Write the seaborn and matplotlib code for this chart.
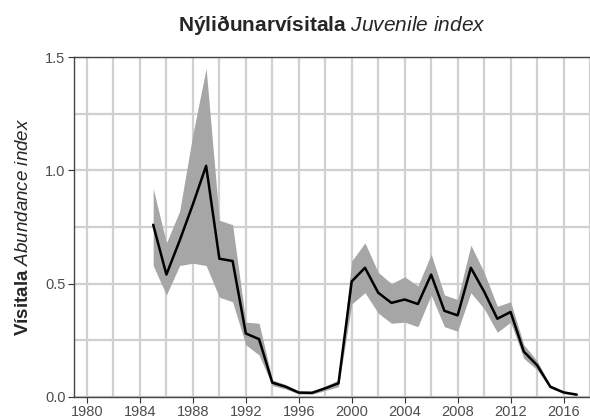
import numpy as np
import pandas as pd
import matplotlib
matplotlib.use("Agg")
import matplotlib.pyplot as plt
import seaborn as sns

years = list(range(1985, 2018))
index = [0.76, 0.54, 0.69, 0.85, 1.02, 0.61, 0.60, 0.28, 0.255, 0.063, 0.045,
         0.019, 0.018, 0.038, 0.06, 0.51, 0.57, 0.46, 0.415, 0.43, 0.41, 0.54,
         0.38, 0.36, 0.57, 0.465, 0.345, 0.375, 0.20, 0.14, 0.045, 0.02, 0.01]
upper = [0.92, 0.68, 0.82, 1.16, 1.45, 0.78, 0.76, 0.33, 0.325, 0.075, 0.055,
         0.026, 0.025, 0.048, 0.075, 0.60, 0.68, 0.55, 0.50, 0.53, 0.49, 0.63,
         0.45, 0.43, 0.67, 0.55, 0.40, 0.42, 0.23, 0.16, 0.052, 0.025, 0.013]
lower = [0.58, 0.45, 0.58, 0.59, 0.58, 0.44, 0.42, 0.23, 0.185, 0.05, 0.035,
         0.013, 0.012, 0.028, 0.045, 0.41, 0.46, 0.37, 0.325, 0.33, 0.31, 0.45,
         0.31, 0.29, 0.46, 0.39, 0.285, 0.33, 0.17, 0.12, 0.038, 0.015, 0.007]

df = pd.DataFrame({"year": years, "index": index, "upper": upper, "lower": lower})

sns.set_style("white")
plt.rcParams["font.family"] = ["Liberation Sans", "DejaVu Sans"]
plt.rcParams["mathtext.fontset"] = "custom"
plt.rcParams["mathtext.bf"] = "Liberation Sans:bold"
plt.rcParams["mathtext.it"] = "Liberation Sans:italic"
plt.rcParams["mathtext.rm"] = "Liberation Sans"

fig = plt.figure(figsize=(5.9, 4.2), dpi=100)
ax = fig.add_axes([0.125, 0.055, 0.875, 0.809])

ax.fill_between(df["year"], df["lower"], df["upper"], color="#a6a6a6", linewidth=0, zorder=2)
sns.lineplot(data=df, x="year", y="index", color="black", linewidth=1.8, ax=ax, zorder=3)

ax.set_xlim(1979, 2018)
ax.set_ylim(0, 1.5)
ax.set_xticks(range(1980, 2017, 4))
ax.set_xticks(range(1980, 2019, 2), minor=True)
ax.set_yticks([0, 0.5, 1.0, 1.5])
ax.set_yticks(np.arange(0, 1.51, 0.25), minor=True)
ax.set_yticklabels(["0.0", "0.5", "1.0", "1.5"])
ax.grid(True, which="both", color="#d0d0d0", linewidth=1.6, zorder=0)
ax.set_axisbelow(True)
ax.tick_params(axis="both", which="major", direction="out", length=4, width=0.8,
               color="#333333", labelcolor="#4d4d4d", labelsize=10.5, pad=2,
               left=True, bottom=True)
ax.tick_params(which="minor", length=0)

ax.spines["right"].set_visible(False)
for side in ["left", "bottom", "top"]:
    ax.spines[side].set_color("#444444")
    ax.spines[side].set_linewidth(1.0)

ax.set_xlabel("")
ax.set_ylabel(r"$\bf{Vísitala}$ $\it{Abundance\ index}$", fontsize=13.5, labelpad=9)
ax.set_title(r"$\bf{Nýliðunarvísitala}$ $\it{Juvenile\ index}$", fontsize=15, pad=19)

fig.savefig("out.png", dpi=100)
